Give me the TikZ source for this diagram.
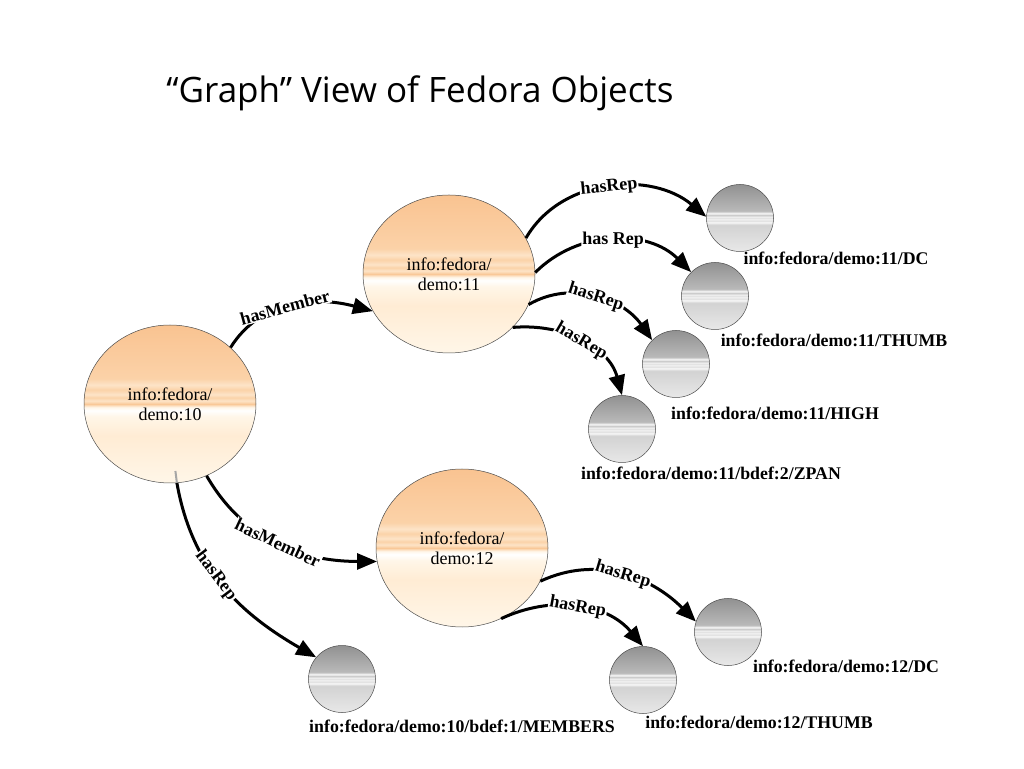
\documentclass[tikz,border=0pt]{standalone}
\usepackage{fontspec}
\setmainfont{Liberation Serif}
\newfontfamily\titlefont{Open Sans}
\usetikzlibrary{arrows.meta,shapes.geometric,calc}

\definecolor{oTop}{RGB}{249,195,145}
\definecolor{oUp}{RGB}{251,210,168}
\definecolor{oUp2}{RGB}{253,228,200}
\definecolor{oLine}{RGB}{249,200,152}
\definecolor{oLow}{RGB}{255,236,212}
\definecolor{oBot}{RGB}{255,246,232}
\definecolor{gTop}{RGB}{145,145,145}
\definecolor{gUp}{RGB}{185,185,185}
\definecolor{gLow}{RGB}{210,210,210}
\definecolor{gBot}{RGB}{232,232,232}

\pgfdeclareverticalshading{orangeshade}{100bp}{
  color(0bp)=(oBot); color(25bp)=(oBot); color(40bp)=(oLow);
  color(46bp)=(oBot); color(48bp)=(white); color(49bp)=(oBot);
  color(50bp)=(oLine); color(51bp)=(oUp2); color(52bp)=(oUp);
  color(53bp)=(oUp2); color(54.5bp)=(oUp); color(56bp)=(oUp2);
  color(58bp)=(oUp); color(75bp)=(oTop); color(100bp)=(oTop)}

\pgfdeclareverticalshading{grayshade}{100bp}{
  color(0bp)=(gBot); color(25bp)=(gBot); color(45bp)=(gLow);
  color(47bp)=(white); color(48bp)=(gLow); color(49bp)=(white);
  color(50bp)=(gLow); color(51bp)=(white); color(52bp)=(gUp);
  color(53.5bp)=(white); color(55bp)=(gUp); color(75bp)=(gTop); color(100bp)=(gTop)}

\begin{document}
\begin{tikzpicture}[x=1pt,y=1pt,
  obj/.style={ellipse, draw=black!70, line width=0.5pt, shading=orangeshade,
    minimum width=172pt, minimum height=158pt, inner sep=0pt, align=center,
    font=\fontsize{18}{20}\selectfont},
  ds/.style={circle, draw=black!70, line width=0.5pt, shading=grayshade,
    minimum size=67pt, inner sep=0pt},
  dslabel/.style={font=\bfseries\fontsize{17.8}{20}\selectfont, inner sep=0pt},
  rel/.style={line width=3pt, -{Triangle[length=20pt,width=16pt]}},
  rellabel/.style={font=\bfseries\fontsize{18}{20}\selectfont, fill=white,
    inner sep=1pt, sloped}
]
\useasboundingbox (0,0) rectangle (1024,768);

\node[font=\titlefont\fontsize{35}{40}\selectfont] (title) at (420,675)
  {“Graph” View of Fedora Objects};

% objects
\node[obj] (d10) at (170,364) {info:fedora/\\demo:10};
\node[obj] (d11) at (449,494) {info:fedora/\\demo:11};
\node[obj] (d12) at (462,220) {info:fedora/\\demo:12};

% datastreams
\node[ds] (dc11)  at (740,550) {};
\node[ds] (th11)  at (715,472) {};
\node[ds] (hi11)  at (676,404) {};
\node[ds] (zp11)  at (622,339) {};
\node[ds] (mem10) at (342,89) {};
\node[ds] (dc12)  at (728,136) {};
\node[ds] (th12)  at (643,88) {};

% datastream labels
\node[dslabel] (ldc11)  at (836,510) {info:fedora/demo:11/DC};
\node[dslabel] (lth11)  at (834,428) {info:fedora/demo:11/THUMB};
\node[dslabel] (lhi11)  at (775,355) {info:fedora/demo:11/HIGH};
\node[dslabel] (lzp11)  at (711,295) {info:fedora/demo:11/bdef:2/ZPAN};
\node[dslabel] (lmem10) at (462,42) {info:fedora/demo:10/bdef:1/MEMBERS};
\node[dslabel] (ldc12)  at (846,102) {info:fedora/demo:12/DC};
\node[dslabel] (lth12)  at (759,46) {info:fedora/demo:12/THUMB};

% relations
\draw[black!35, line width=2pt] ($(d10.-85)+(-1.5,12)$) -- (d10.-85);
\draw[rel] (d10.43) to[out=58,in=165] node[rellabel,pos=0.45]{hasMember} (d11.206);
\draw[rel] (d10.-63) to[out=-60,in=180] node[rellabel,pos=0.5]{hasMember} (d12.189);
\draw[rel] (d10.-85) to[out=-80,in=150] node[rellabel,pos=0.44]{hasRep} (mem10.140);
\draw[rel] (d11.25) to[out=60,in=140] node[rellabel]{hasRep} (dc11.178);
\draw[rel] (d11.1) to[out=45,in=135] node[rellabel]{has Rep} (th11.135);
\draw[rel] (d11.-21) to[out=30,in=125] node[rellabel]{hasRep} (hi11.135);
\draw[rel] (d11.-40) to[out=5,in=105] node[rellabel]{hasRep} (zp11.90);
\draw[rel] (d12.-23) to[out=25,in=135] node[rellabel]{hasRep} (dc12.162);
\draw[rel] (d12.-61) to[out=25,in=130] node[rellabel]{hasRep} (th12.90);
\end{tikzpicture}
\end{document}
